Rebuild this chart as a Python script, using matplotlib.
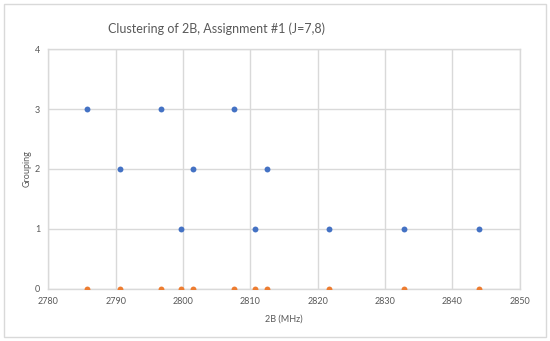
import matplotlib
matplotlib.use('Agg')
import matplotlib.pyplot as plt
from matplotlib.patches import Rectangle

# 2B frequencies (MHz) and their assigned group
freq = [2785.8, 2790.6, 2796.7, 2799.7, 2801.5, 2807.6, 2810.7, 2812.5,
        2821.7, 2832.8, 2843.9]
grouping = [3, 2, 3, 1, 2, 3, 1, 2, 1, 1, 1]
baseline = [0] * len(freq)

x_ticks = [2780, 2790, 2800, 2810, 2820, 2830, 2840, 2850]
y_ticks = [0, 1, 2, 3, 4]

plt.rcParams['font.family'] = ['Lato', 'DejaVu Sans']

fig = plt.figure(figsize=(5.5, 3.41), dpi=100)
ax = fig.add_axes([0.088, 0.153, 0.857, 0.703])

grey = '#d9d9d9'
txt = '#595959'

ax.scatter(freq, grouping, s=18, color='#4472C4', zorder=3, linewidths=0)
ax.scatter(freq, baseline, s=18, color='#ED7D31', zorder=3, linewidths=0)

ax.set_xlim(2780, 2850)
ax.set_ylim(0, 4)
ax.set_xticks(x_ticks)
ax.set_yticks(y_ticks)
ax.grid(True, color=grey, linewidth=1)
ax.set_axisbelow(True)
for s in ax.spines.values():
    s.set_color(grey)
    s.set_linewidth(1)
ax.tick_params(length=0, labelsize=6.5, labelcolor=txt, pad=6)

ax.set_xlabel('2B (MHz)', fontsize=6.5, color=txt)
ax.set_ylabel('Grouping', fontsize=6.5, color=txt)
ax.xaxis.set_label_coords(0.5, -0.108)
ax.yaxis.set_label_coords(-0.036, 0.5)

fig.text(0.393, 0.915, 'Clustering of 2B, Assignment #1 (J=7,8)',
         ha='center', va='center', fontsize=9, color=txt)

# chart border
fig.patches.append(Rectangle((0.007, 0.012), 0.985, 0.976,
                             transform=fig.transFigure, fill=False,
                             edgecolor=grey, linewidth=1))

fig.savefig('out.png', dpi=100)
